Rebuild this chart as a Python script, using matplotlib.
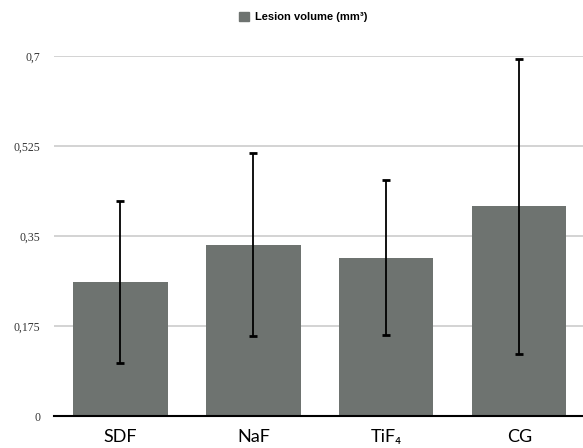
import matplotlib
matplotlib.use("Agg")
from matplotlib import pyplot as plt
from matplotlib.patches import Patch

# 数据
groups = ["SDF", "NaF", "TiF\u2084", "CG"]
means = [0.261, 0.333, 0.308, 0.408]
sds = [0.157, 0.178, 0.151, 0.287]
yticks = [0, 0.175, 0.35, 0.525, 0.7]
ytick_labels = ["0", "0,175", "0,35", "0,525", "0,7"]

bar_color = "#6e7370"

fig = plt.figure(figsize=(5.83, 4.48), dpi=100)
ax = fig.add_axes([0.0926, 0.0714, 0.9074, 0.8036])

x = list(range(len(groups)))
ax.bar(x, means, width=0.71, color=bar_color, zorder=2)
ax.errorbar(x, means, yerr=sds, fmt="none", ecolor="black", elinewidth=1.3,
            capsize=3, capthick=2, zorder=3, clip_on=False)

ax.set_xlim(-0.5, 3.48)
ax.set_ylim(0, 0.7)

ax.set_yticks(yticks)
ax.set_yticklabels(ytick_labels, family="Liberation Serif", fontsize=8.5, color="#333333")
ax.tick_params(axis="y", length=0, pad=10)

ax.set_xticks(x)
ax.set_xticklabels(groups, family=["Lato", "DejaVu Sans"], fontsize=13)
ax.tick_params(axis="x", length=0, pad=9)

# 网格
ax.grid(axis="y", color="#cccccc", linewidth=1.2, zorder=0)
ax.set_axisbelow(True)
for side in ["top", "right", "left"]:
    ax.spines[side].set_visible(False)
ax.spines["bottom"].set_color("black")
ax.spines["bottom"].set_linewidth(1.5)
ax.spines["bottom"].set_zorder(4)

handles = [Patch(facecolor=bar_color, edgecolor=bar_color)]
fig.legend(handles, ["Lesion volume (mm\u00b3)"], loc="center", bbox_to_anchor=(0.52, 0.962),
           frameon=False, prop={"family": "Liberation Sans", "weight": "bold", "size": 8},
           handlelength=0.9, handleheight=0.9, handletextpad=0.6)

fig.savefig("out.png", dpi=100)
